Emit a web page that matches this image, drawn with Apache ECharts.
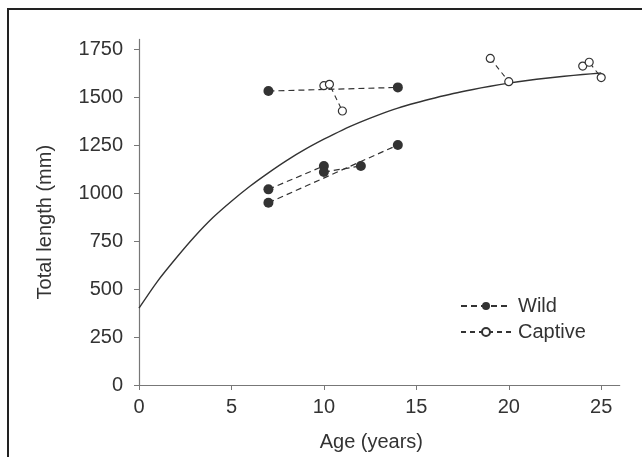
<!DOCTYPE html>
<html>
<head>
<meta charset="utf-8">
<script src="https://cdn.jsdelivr.net/npm/echarts@6/dist/echarts.min.js"></script>
<style>
html,body{margin:0;padding:0;background:#fff;}
#chart{width:642px;height:457px;}
</style>
</head>
<body>
<div id="chart"></div>
<script>
// ---- data ----
const xTicks = [0, 5, 10, 15, 20, 25];
const yTicks = [0, 250, 500, 750, 1000, 1250, 1500, 1750];

// fitted growth curve
const curveAges    = [0, 1, 2, 3, 4, 5, 6, 7, 8, 9, 10, 11, 12, 13, 14, 15, 16, 17, 18, 19, 20, 21, 22, 23, 24, 25];
const curveLengths = [400, 540, 660, 772, 872, 957, 1035, 1105, 1170, 1228, 1280, 1328, 1370, 1408, 1442, 1470, 1495, 1518, 1538, 1556, 1572, 1586, 1598, 1608, 1617, 1625];

// wild fish (filled), each array = one fish re-measured
const wildA = [[7, 1531], [14, 1550]];
const wildB = [[7, 1019], [10, 1141]];
const wildC = [[10, 1109], [12, 1141]];
const wildD = [[7, 949], [14, 1250]];

// captive fish (open)
const captiveA = [[10, 1559], [10.3, 1566], [11, 1427]];
const captiveB = [[19, 1701], [20, 1580]];
const captiveC = [[24, 1661], [24.35, 1681], [25, 1601]];

const wildGroups = [wildA, wildB, wildC, wildD];
const captiveGroups = [captiveA, captiveB, captiveC];

const INK = '#333333';
const FONT = 'Liberation Sans, Arial, Helvetica, sans-serif';

const chart = echarts.init(document.getElementById('chart'), null, {renderer: 'canvas'});

const series = [];
series.push({
  name: 'fit',
  type: 'line',
  data: curveAges.map((a, i) => [a, curveLengths[i]]),
  smooth: 0.3,
  showSymbol: false,
  symbol: 'none',
  lineStyle: {color: INK, width: 1.4},
  z: 2,
  silent: true
});
wildGroups.forEach(g => series.push({
  name: 'Wild',
  type: 'line',
  data: g,
  symbol: 'circle',
  symbolSize: 10,
  itemStyle: {color: INK, borderWidth: 0},
  lineStyle: {color: INK, width: 1.2, type: [6, 4]},
  z: 3
}));
captiveGroups.forEach(g => series.push({
  name: 'Captive',
  type: 'line',
  data: g,
  symbol: 'circle',
  symbolSize: 8,
  itemStyle: {color: '#ffffff', borderColor: INK, borderWidth: 1.2},
  lineStyle: {color: INK, width: 1.1, type: [5, 4]},
  z: 4
}));

const plain = v => String(v);

chart.setOption({
  animation: false,
  backgroundColor: '#ffffff',
  textStyle: {fontFamily: FONT},
  grid: {left: 139, right: 22.3, top: 39.4, bottom: 72, containLabel: false},
  legend: {
    data: ['Wild', 'Captive'],
    orient: 'vertical',
    left: 455,
    top: 291,
    itemWidth: 50,
    itemHeight: 10,
    itemGap: 6,
    textStyle: {fontSize: 20, color: INK, fontFamily: FONT, padding: [0, 0, 0, 2]}
  },
  xAxis: {
    type: 'value',
    min: 0, max: 26, interval: 5,
    name: 'Age (years)',
    nameLocation: 'middle',
    nameGap: 47,
    nameTextStyle: {fontSize: 20, color: INK, fontFamily: FONT, padding: [0, 16, 0, 0]},
    axisLine: {show: true, lineStyle: {color: '#777', width: 1.2}},
    axisTick: {show: true, length: 5, lineStyle: {color: '#777'}, customValues: xTicks},
    axisLabel: {fontSize: 20, color: INK, fontFamily: FONT, margin: 12, customValues: xTicks, formatter: plain},
    splitLine: {show: false}
  },
  yAxis: {
    type: 'value',
    min: 0, max: 1800, interval: 250,
    name: 'Total length (mm)',
    nameLocation: 'middle',
    nameGap: 84,
    nameRotate: 90,
    nameTextStyle: {fontSize: 20, color: INK, fontFamily: FONT, padding: [0, 20, 0, 0]},
    axisLine: {show: true, lineStyle: {color: '#777', width: 1.2}},
    axisTick: {show: true, length: 5, lineStyle: {color: '#777'}, customValues: yTicks},
    axisLabel: {fontSize: 20, color: INK, fontFamily: FONT, margin: 16, customValues: yTicks, formatter: plain},
    splitLine: {show: false}
  },
  graphic: [
    {type: 'line', shape: {x1: 7, y1: 9, x2: 642, y2: 9}, style: {stroke: '#222', lineWidth: 2}, z: 100},
    {type: 'line', shape: {x1: 8, y1: 8, x2: 8, y2: 457}, style: {stroke: '#222', lineWidth: 2}, z: 100}
  ],
  series: series
});
</script>
</body>
</html>
